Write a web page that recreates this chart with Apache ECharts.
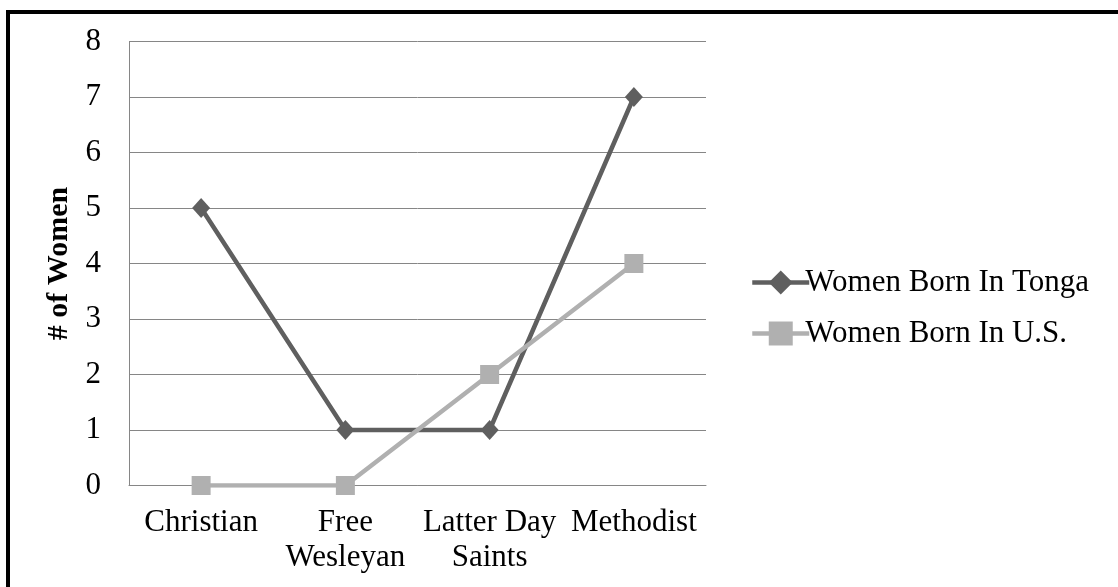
<!DOCTYPE html>
<html>
<head>
<meta charset="utf-8">
<script src="https://cdn.jsdelivr.net/npm/echarts@6/dist/echarts.min.js"></script>
<style>
html,body{margin:0;padding:0;background:#fff;}
#c{width:1118px;height:587px;}
</style>
</head>
<body>
<div id="c"></div>
<script>
const categories = ['Christian', 'Free\nWesleyan', 'Latter Day\nSaints', 'Methodist'];
const tongaValues = [5, 1, 1, 7];
const usValues = [0, 0, 2, 4];
const seriesNames = ['Women Born In Tonga', 'Women Born In U.S.'];
const yTicks = [0, 1, 2, 3, 4, 5, 6, 7, 8];

const font = '"Liberation Serif", "Times New Roman", serif';
const chart = echarts.init(document.getElementById('c'));
chart.setOption({
  animation: false,
  backgroundColor: '#fff',
  graphic: [
    { type: 'line', shape: { x1: 8, y1: 12, x2: 8, y2: 600 }, style: { stroke: '#000', lineWidth: 4 } },
    { type: 'line', shape: { x1: 6, y1: 12, x2: 1130, y2: 12 }, style: { stroke: '#000', lineWidth: 4 } }
  ],
  grid: { left: 129, right: 412, top: 41.5, bottom: 101.5, containLabel: false },
  legend: {
    orient: 'vertical',
    left: 745,
    top: 262,
    itemWidth: 57,
    itemHeight: 30,
    itemGap: 20,
    data: seriesNames,
    lineStyle: { width: 4.5 },
    textStyle: { fontFamily: font, fontSize: 31, color: '#000', lineHeight: 30, padding: [0, 0, 0, -9] }
  },
  xAxis: {
    type: 'category',
    data: categories,
    boundaryGap: true,
    axisLine: { lineStyle: { color: '#868686', width: 1 } },
    axisTick: { show: false },
    axisLabel: { fontFamily: font, fontSize: 31, color: '#000', margin: 20, lineHeight: 35, interval: 0 }
  },
  yAxis: {
    type: 'value',
    min: yTicks[0],
    max: yTicks[yTicks.length - 1],
    interval: 1,
    name: '# of Women',
    nameLocation: 'middle',
    nameGap: 52,
    nameRotate: 90,
    nameTextStyle: { fontFamily: font, fontSize: 30, fontWeight: 'bold', color: '#000' },
    axisLine: { show: true, lineStyle: { color: '#868686', width: 1 } },
    axisTick: { show: false },
    splitLine: { lineStyle: { color: '#868686', width: 1 } },
    axisLabel: { fontFamily: font, fontSize: 31, color: '#000', margin: 28 }
  },
  series: [
    {
      name: seriesNames[0],
      type: 'line',
      data: tongaValues,
      symbol: 'diamond',
      symbolSize: [18, 20],
      lineStyle: { color: '#5f5f5f', width: 4.5 },
      itemStyle: { color: '#5f5f5f' }
    },
    {
      name: seriesNames[1],
      type: 'line',
      data: usValues,
      symbol: 'rect',
      symbolSize: 19,
      lineStyle: { color: '#b0b0b0', width: 4.5 },
      itemStyle: { color: '#b0b0b0' }
    }
  ]
});
</script>
</body>
</html>
